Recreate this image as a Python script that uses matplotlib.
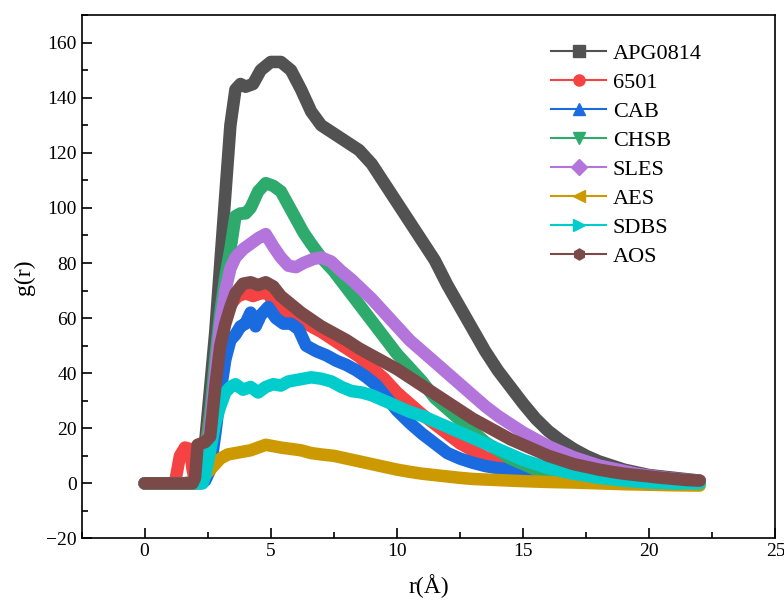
import matplotlib
matplotlib.use("Agg")
import matplotlib.pyplot as plt
from matplotlib.lines import Line2D
from matplotlib.ticker import MultipleLocator

plt.rcParams['font.family'] = ['Liberation Serif', 'DejaVu Serif']
plt.rcParams['axes.unicode_minus'] = True

# g(r) curves, values
r_apg = [0, 0.5, 1.0, 1.5, 2.0, 2.2, 2.4, 2.6, 2.8, 3.0, 3.2, 3.4, 3.6, 3.8, 4.0, 4.3, 4.6, 5.0, 5.4, 5.8,
         6.2, 6.6, 7.0, 7.5, 8.0, 8.5, 9.0, 9.5, 10.0, 10.5, 11.0, 11.5, 12.0, 12.5, 13.0, 13.5, 14.0, 14.5,
         15.0, 15.5, 16.0, 16.5, 17.0, 17.5, 18.0, 18.5, 19.0, 19.5, 20.0, 20.5, 21.0, 21.5, 22.0]
g_apg = [0, 0, 0, 0, 0.5, 3, 15, 35, 55, 80, 105, 130, 143, 145, 144, 145, 150, 153, 153, 150,
         143, 135, 130, 127, 124, 121, 116, 109, 102, 95, 88, 81, 72, 64, 56, 48, 41, 35,
         29, 23.5, 19, 15.5, 12.5, 10, 8, 6.5, 5, 4, 3, 2.5, 2, 1.5, 1]

r_6501 = [0, 0.5, 1.0, 1.2, 1.4, 1.6, 1.8, 1.9, 2.0, 2.2, 2.4, 2.6, 2.8, 3.0, 3.2, 3.4, 3.7, 4.0, 4.3, 4.6,
          4.9, 5.2, 5.5, 6.0, 6.5, 7.0, 7.5, 8.0, 8.5, 9.0, 9.5, 10.0, 10.5, 11.0, 11.5, 12.0, 12.5, 13.0,
          13.5, 14.0, 14.5, 15.0, 15.5, 16.0, 16.5, 17.0, 18.0, 19.0, 20.0, 21.0, 22.0]
g_6501 = [0, 0, 0, 0, 10, 13, 12.5, 5, 1, 3, 12, 25, 40, 52, 60, 65, 68, 69, 68, 69,
          69, 64, 62, 60, 57.5, 55, 52, 49, 46, 42, 38, 33, 29, 25, 21.5, 18, 14.5, 12,
          9.5, 7.5, 6, 5, 4, 3.3, 2.7, 2.2, 1.5, 1, 0.6, 0.3, 0.2]

r_cab = [0, 0.5, 1.0, 1.5, 2.0, 2.2, 2.4, 2.6, 2.8, 3.0, 3.2, 3.4, 3.6, 3.8, 4.0, 4.2, 4.4, 4.6, 4.9, 5.2,
         5.5, 5.8, 6.1, 6.4, 6.8, 7.2, 7.6, 8.0, 8.4, 8.8, 9.2, 9.6, 10.0, 10.5, 11.0, 11.5, 12.0, 12.5,
         13.0, 13.5, 14.0, 14.5, 15.0, 16.0, 17.0, 18.0, 19.0, 20.0, 21.0, 22.0]
g_cab = [0, 0, 0, 0, 0, 0, 1, 5, 18, 33, 45, 52, 54, 57, 58, 62, 57, 61, 64, 60,
         58, 58, 56, 50, 48, 46.5, 44.5, 43, 41, 38.5, 35.5, 31, 26.5, 22, 18, 14.5, 11, 9,
         7.5, 6.3, 5.5, 5, 4.5, 3.8, 3, 2, 1.5, 1, 0.8, 0.5]

r_chsb = [0, 0.5, 1.0, 1.5, 2.0, 2.2, 2.4, 2.6, 2.8, 3.0, 3.2, 3.4, 3.6, 3.8, 4.0, 4.2, 4.5, 4.8, 5.1, 5.4,
          5.7, 6.0, 6.3, 6.6, 7.0, 7.5, 8.0, 8.5, 9.0, 9.5, 10.0, 10.5, 11.0, 11.5, 12.0, 12.5, 13.0,
          13.5, 14.0, 14.5, 15.0, 15.5, 16.0, 16.5, 17.0, 18.0, 19.0, 20.0, 21.0, 22.0]
g_chsb = [0, 0, 0, 0, 0, 2, 10, 25, 45, 62, 75, 85, 97, 98, 98, 100, 106, 109, 108, 106,
          101, 96, 91, 87, 82, 77, 71, 65, 59, 53, 47, 42, 37, 31, 27, 23, 19,
          15, 12, 9, 7, 5, 4, 3, 2, 1.5, 1, 0.5, 0.3, 0]

r_sles = [0, 0.5, 1.0, 1.5, 2.0, 2.2, 2.4, 2.6, 2.8, 3.0, 3.2, 3.4, 3.6, 3.9, 4.2, 4.5, 4.8, 5.1, 5.4, 5.7,
          6.0, 6.3, 6.7, 7.0, 7.4, 7.8, 8.2, 8.6, 9.0, 9.5, 10.0, 10.5, 11.0, 11.5, 12.0, 12.5, 13.0,
          13.5, 14.0, 14.5, 15.0, 15.5, 16.0, 16.5, 17.0, 17.5, 18.0, 18.5, 19.0, 19.5, 20.0, 20.5,
          21.0, 21.5, 22.0]
g_sles = [0, 0, 0, 0, 0, 1, 8, 20, 40, 58, 70, 78, 82, 85, 87, 89, 90.5, 86, 82, 79,
          78.5, 80, 81.5, 82, 80.5, 77, 74, 70.5, 67, 62, 57, 52, 48, 44, 40, 36, 32,
          28, 24.5, 21.5, 18.5, 16, 13.5, 11.5, 9.5, 8, 6.5, 5.5, 4.5, 3.5, 2.8, 2.2,
          1.7, 1.3, 1]

r_aes = [0, 0.5, 1.0, 1.5, 2.1, 2.3, 2.5, 2.7, 3.0, 3.3, 3.6, 3.9, 4.2, 4.5, 4.8, 5.1, 5.4, 5.8, 6.2, 6.6,
         7.0, 7.5, 8.0, 8.5, 9.0, 9.5, 10.0, 10.5, 11.0, 11.5, 12.0, 12.5, 13.0, 14.0, 15.0, 16.0, 17.0,
         18.0, 19.0, 20.0, 21.0, 22.0]
g_aes = [0, 0, 0, 0, 0, 2, 4, 6, 9, 10.5, 11, 11.5, 12, 13, 14, 13.5, 13, 12.5, 12, 11,
         10.5, 10, 9, 8, 7, 6, 5, 4.2, 3.5, 3, 2.5, 2, 1.6, 1.2, 0.8, 0.5, 0.3,
         0, -0.3, -0.5, -0.7, -0.8]

r_sdbs = [0, 0.5, 1.0, 1.5, 2.0, 2.3, 2.4, 2.6, 2.8, 3.0, 3.2, 3.4, 3.6, 3.9, 4.2, 4.5, 4.8, 5.1, 5.4, 5.7,
          6.0, 6.3, 6.6, 7.0, 7.4, 7.8, 8.2, 8.6, 9.0, 9.5, 10.0, 10.5, 11.0, 11.5, 12.0, 12.5, 13.0,
          13.5, 14.0, 14.5, 15.0, 15.5, 16.0, 16.5, 17.0, 17.5, 18.0, 19.0, 20.0, 21.0, 22.0]
g_sdbs = [0, 0, 0, 0, 0, 0, 3, 12, 22, 28, 33, 35, 36, 34, 35, 33, 35, 36, 35.5, 37,
          37.5, 38, 38.5, 38, 37, 35, 33.5, 33, 32, 30, 28, 26, 24.5, 22.5, 20.5, 18.5, 16.5,
          14.5, 12.5, 10.5, 8.5, 7, 5.5, 4.5, 3.5, 2.8, 2, 1, 0.3, 0, 0]

r_aos = [0, 0.5, 1.0, 1.5, 1.9, 2.0, 2.1, 2.4, 2.6, 2.8, 3.0, 3.2, 3.4, 3.6, 3.9, 4.2, 4.5, 4.8, 5.1, 5.4,
         5.8, 6.2, 6.6, 7.0, 7.5, 8.0, 8.5, 9.0, 9.5, 10.0, 10.5, 11.0, 11.5, 12.0, 12.5, 13.0, 13.5,
         14.0, 14.5, 15.0, 15.5, 16.0, 16.5, 17.0, 17.5, 18.0, 18.5, 19.0, 19.5, 20.0, 20.5, 21.0,
         21.5, 22.0]
g_aos = [0, 0, 0, 0, 0, 2, 14, 15, 17, 35, 50, 58, 64, 69, 72.5, 73, 72, 73, 71.5, 68,
         65, 62, 59.5, 57, 54.5, 52, 49, 46.5, 44, 41.5, 38.5, 35.5, 32.5, 29.5, 26.5, 23.5, 21,
         18.5, 16, 14, 12, 10, 8.5, 7, 6, 5, 4.2, 3.5, 3, 2.5, 2, 1.6,
         1.2, 1]

series = [
    ('APG0814', r_apg, g_apg, '#525252', 's'),
    ('6501', r_6501, g_6501, '#f54242', 'o'),
    ('CAB', r_cab, g_cab, '#1a6be0', '^'),
    ('CHSB', r_chsb, g_chsb, '#2eab6c', 'v'),
    ('SLES', r_sles, g_sles, '#b374db', 'D'),
    ('AES', r_aes, g_aes, '#cc9900', '<'),
    ('SDBS', r_sdbs, g_sdbs, '#00cccc', '>'),
    ('AOS', r_aos, g_aos, '#7b4a48', 'h'),
]

fig = plt.figure(figsize=(7.84, 6.05), dpi=100)
ax = fig.add_axes([0.104, 0.110, 0.885, 0.865])

handles = []
for name, r, g, c, m in series:
    ax.plot(r, g, color=c, lw=9, solid_capstyle='round', solid_joinstyle='round')
    handles.append(Line2D([], [], color=c, lw=1.5, marker=m, markersize=8, label=name))

ax.set_xlim(-2.5, 25)
ax.set_ylim(-20, 170)
ax.xaxis.set_major_locator(MultipleLocator(5))
ax.xaxis.set_minor_locator(MultipleLocator(2.5))
ax.yaxis.set_major_locator(MultipleLocator(20))
ax.yaxis.set_minor_locator(MultipleLocator(10))
ax.tick_params(which='both', direction='in', labelsize=14, width=1.2)
ax.tick_params(which='major', length=7)
ax.tick_params(which='minor', length=4)
for s in ax.spines.values():
    s.set_linewidth(1.2)

ax.set_xlabel('r(Å)', fontsize=17, labelpad=10)
ax.set_ylabel('g(r)', fontsize=17, labelpad=8)

ax.legend(handles=handles, loc='upper left', bbox_to_anchor=(0.677, 0.962),
          bbox_transform=fig.transFigure, frameon=False, fontsize=16,
          handlelength=2.5, handletextpad=0.3, labelspacing=0.38)

fig.savefig('out.png', dpi=100)
